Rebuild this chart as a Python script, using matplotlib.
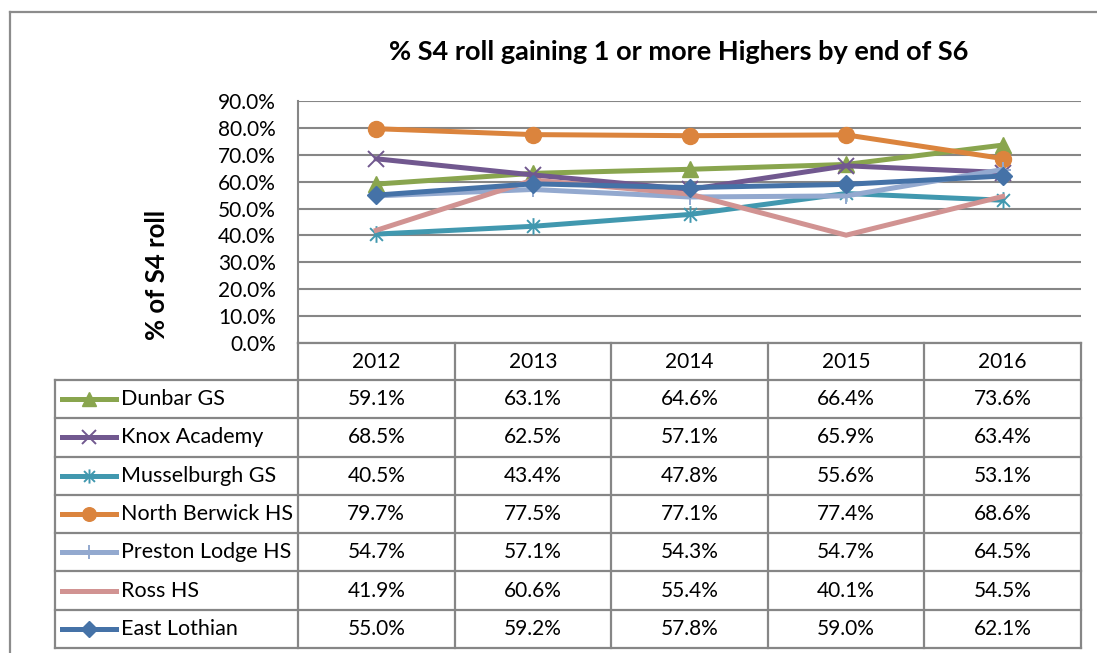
import matplotlib
matplotlib.use("Agg")
import matplotlib.pyplot as plt
from matplotlib.lines import Line2D
from matplotlib.path import Path
import numpy as np

years = ["2012", "2013", "2014", "2015", "2016"]
dunbar = [59.1, 63.1, 64.6, 66.4, 73.6]
knox = [68.5, 62.5, 57.1, 65.9, 63.4]
musselburgh = [40.5, 43.4, 47.8, 55.6, 53.1]
north_berwick = [79.7, 77.5, 77.1, 77.4, 68.6]
preston_lodge = [54.7, 57.1, 54.3, 54.7, 64.5]
ross = [41.9, 60.6, 55.4, 40.1, 54.5]
east_lothian = [55.0, 59.2, 57.8, 59.0, 62.1]

names = ["Dunbar GS", "Knox Academy", "Musselburgh GS", "North Berwick HS",
         "Preston Lodge HS", "Ross HS", "East Lothian"]
series = [dunbar, knox, musselburgh, north_berwick, preston_lodge, ross, east_lothian]
y_ticks = [0, 10, 20, 30, 40, 50, 60, 70, 80, 90]

asterisk = Path([(-1, -1), (1, 1), (-1, 1), (1, -1), (0, -1.3), (0, 1.3)],
                [Path.MOVETO, Path.LINETO, Path.MOVETO, Path.LINETO, Path.MOVETO, Path.LINETO])

styles = [
    dict(color="#89A54E", marker="^", ms=11.5, mew=1),
    dict(color="#71588F", marker="x", ms=11.5, mew=1.4),
    dict(color="#4198AF", marker=asterisk, ms=12, mew=1.4),
    dict(color="#DB843D", marker="o", ms=11.5, mew=1),
    dict(color="#93A9CF", marker="+", ms=12, mew=1.4),
    dict(color="#D19392", marker="None", ms=0, mew=0),
    dict(color="#4572A7", marker="D", ms=9.5, mew=1),
]

W, H = 1097, 653
plt.rcParams['font.family'] = ['Lato', 'DejaVu Sans']
fig = plt.figure(figsize=(W / 100, H / 100), dpi=100)

def fx(x):
    return x / W

def fy(y):
    return 1 - y / H

GRID = "#868686"
FS = 15

# plot area
L, R, T, B = 298, 1081, 101, 343
ax = fig.add_axes([fx(L), fy(B), fx(R) - fx(L), fy(T) - fy(B)])
x = np.arange(len(years))
for vals, st, nm in zip(series, styles, names):
    ax.plot(x, vals, color=st["color"], lw=3.6, marker=st["marker"], ms=st["ms"],
            mew=st["mew"], mec=st["color"], mfc=st["color"], clip_on=False,
            solid_joinstyle="miter", label=nm)
ax.set_xlim(-0.5, len(years) - 0.5)
ax.set_ylim(0, 90)
ax.set_yticks(y_ticks)
ax.set_yticklabels([f"{v:.1f}%" for v in y_ticks], fontsize=FS)
ax.set_xticks([])
ax.tick_params(axis="y", length=0, pad=16)
for s in ["top", "right", "bottom"]:
    ax.spines[s].set_visible(False)
ax.spines["left"].set_color(GRID)
ax.spines["left"].set_linewidth(1.5)
ax.grid(axis="y", color=GRID, lw=1.5)
ax.set_axisbelow(True)

def hline(y, x0, x1, lw=1.6, color=GRID):
    fig.add_artist(Line2D([fx(x0), fx(x1)], [fy(y), fy(y)], color=color, lw=lw,
                          transform=fig.transFigure))

def vline(x, y0, y1, lw=1.6, color=GRID):
    fig.add_artist(Line2D([fx(x), fx(x)], [fy(y0), fy(y1)], color=color, lw=lw,
                          transform=fig.transFigure))

# outer border
hline(12, 10, W, lw=1.6, color="#8C8C8C")
vline(10, 12, H, lw=1.6, color="#8C8C8C")

# data table
TL = 55
col_w = (R - L) / len(years)
cols = [L + k * col_w for k in range(len(years) + 1)]
table_top = 380
table_bot = 648
row_h = (table_bot - table_top) / len(names)
hline(B, L, R)
for c in cols:
    vline(c, B, table_bot)
vline(TL, table_top, table_bot)
for r in range(len(names) + 1):
    hline(table_top + r * row_h, TL, R)

for k, yr in enumerate(years):
    fig.text(fx(cols[k] + col_w / 2), fy((B + table_top) / 2), yr, ha="center",
             va="center", fontsize=FS)

for r, (nm, vals, st) in enumerate(zip(names, series, styles)):
    yc = table_top + (r + 0.5) * row_h
    fig.add_artist(Line2D([fx(62), fx(116)], [fy(yc), fy(yc)], color=st["color"], lw=3.6,
                          transform=fig.transFigure))
    if st["marker"] != "None":
        fig.add_artist(Line2D([fx(89)], [fy(yc)], color=st["color"], marker=st["marker"],
                              ms=st["ms"] * 0.85, mew=st["mew"], mec=st["color"],
                              mfc=st["color"], transform=fig.transFigure))
    fig.text(fx(121), fy(yc), nm, ha="left", va="center", fontsize=FS + 0.5)
    for k, v in enumerate(vals):
        fig.text(fx(cols[k] + col_w / 2), fy(yc), f"{v:.1f}%", ha="center",
                 va="center", fontsize=FS)

fig.text(fx(679), fy(52), "% S4 roll gaining 1 or more Highers by end of S6",
         ha="center", va="center", fontsize=19.5, fontweight="bold")
fig.text(fx(157), fy(275), "% of S4 roll", ha="center", va="center", rotation=90,
         fontsize=18.5, fontweight="bold")

fig.savefig("out.png", dpi=100)
